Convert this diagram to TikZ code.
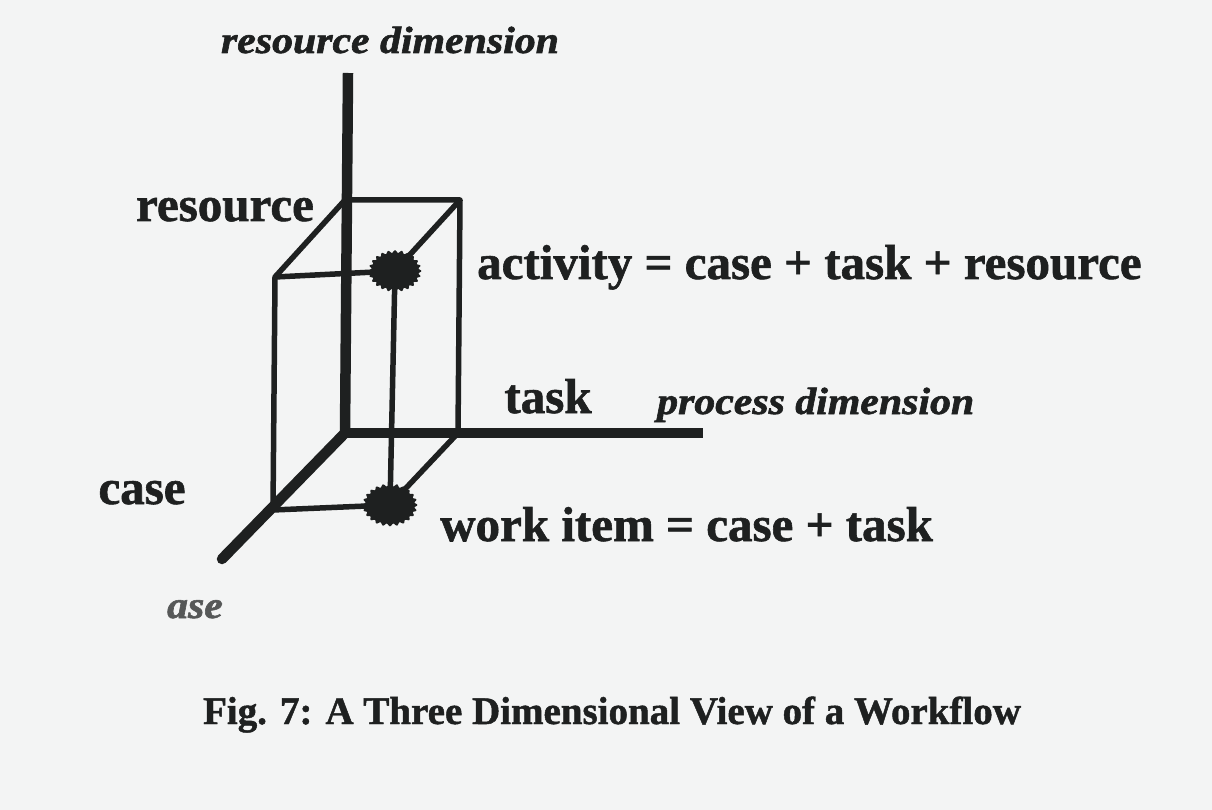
\documentclass[tikz,border=0pt]{standalone}
\usepackage{fontspec}
\setmainfont{Liberation Serif}[BoldFeatures={FakeBold=1.2},BoldItalicFeatures={FakeBold=1.5}]
\definecolor{paper}{RGB}{243,244,244}
\definecolor{ink}{RGB}{30,32,32}
\begin{document}
\begin{tikzpicture}[x=1pt,y=-1pt,
  axis/.style={draw=ink,line width=10.5pt},
  edge/.style={draw=ink,line width=5.5pt,line join=round},
  lbl/.style={text=ink,inner sep=0pt,font=\fontsize{49}{49}\selectfont\bfseries},
  dimlbl/.style={text=ink,inner sep=0pt,font=\fontsize{38}{38}\selectfont\bfseries\itshape},
  captionlbl/.style={text=ink,inner sep=0pt,font=\fontsize{39}{39}\selectfont\bfseries},
  blob/.style={fill=ink}]
\fill[paper] (0,0) rectangle (1212,810);
\useasboundingbox (0,0) rectangle (1212,810);
% axes
\coordinate (O) at (345,433);
\coordinate (rtop) at (348,73);
\coordinate (tend) at (703,433);
\coordinate (cend) at (222,559);
\draw[axis] (rtop) -- (O);
\draw[axis] ([xshift=-5pt]O) -- (tend);
\draw[axis,line cap=round] (O) -- (cend);
% box corners
\coordinate (btl) at (345,200);
\coordinate (btr) at (460,200);
\coordinate (bbr) at (458,433);
\coordinate (ftl) at (275,277);
\coordinate (fbl) at (273,510);
\node[inner sep=0pt,minimum size=1pt] (act) at (395,271) {};
\node[inner sep=0pt,minimum size=1pt] (wi) at (390,505) {};
\draw[edge] (btl) -- (btr) -- (bbr);
\draw[edge] (btl) -- (ftl) -- (fbl) -- (wi);
\draw[edge] (ftl) -- (act);
\draw[edge] (btr) -- (act);
\draw[edge] (bbr) -- (wi);
\draw[edge] (act) -- (wi);
% blobs
\fill[blob,shift={(act)}] plot[domain=0:359,samples=240,smooth cycle]
  ({(25+1.3*cos(24*\x))*cos(\x)},{(19.5+1.3*cos(24*\x))*sin(\x)});
\fill[blob,shift={(wi)}] plot[domain=0:359,samples=240,smooth cycle]
  ({(26+1.3*cos(24*\x))*cos(\x)},{(20+1.3*cos(24*\x))*sin(\x)});
% labels
\node[dimlbl,anchor=base] (rdim) at (390,53) {\scalebox{1.1}[1]{resource dimension}};
\node[lbl,anchor=base] (res) at (225,221) {resource};
\node[lbl,anchor=base west] (actl) at (477,279) {activity = case + task + resource};
\node[lbl,anchor=base] (task) at (548,413) {task};
\node[dimlbl,anchor=base west] (pdim) at (657,414) {\scalebox{1.1}[1]{process dimension}};
\node[lbl,anchor=base] (case) at (142,504) {case};
\node[lbl,anchor=base west] (wil) at (440,541) {work item = case + task};
\node[dimlbl,anchor=base,text=ink!75] (ase) at (195,618) {\scalebox{1.1}[1]{ase}};
\node[captionlbl,anchor=base] (capt) at (612,724) {Fig. 7: A Three Dimensional View of a Workflow};
\end{tikzpicture}
\end{document}
